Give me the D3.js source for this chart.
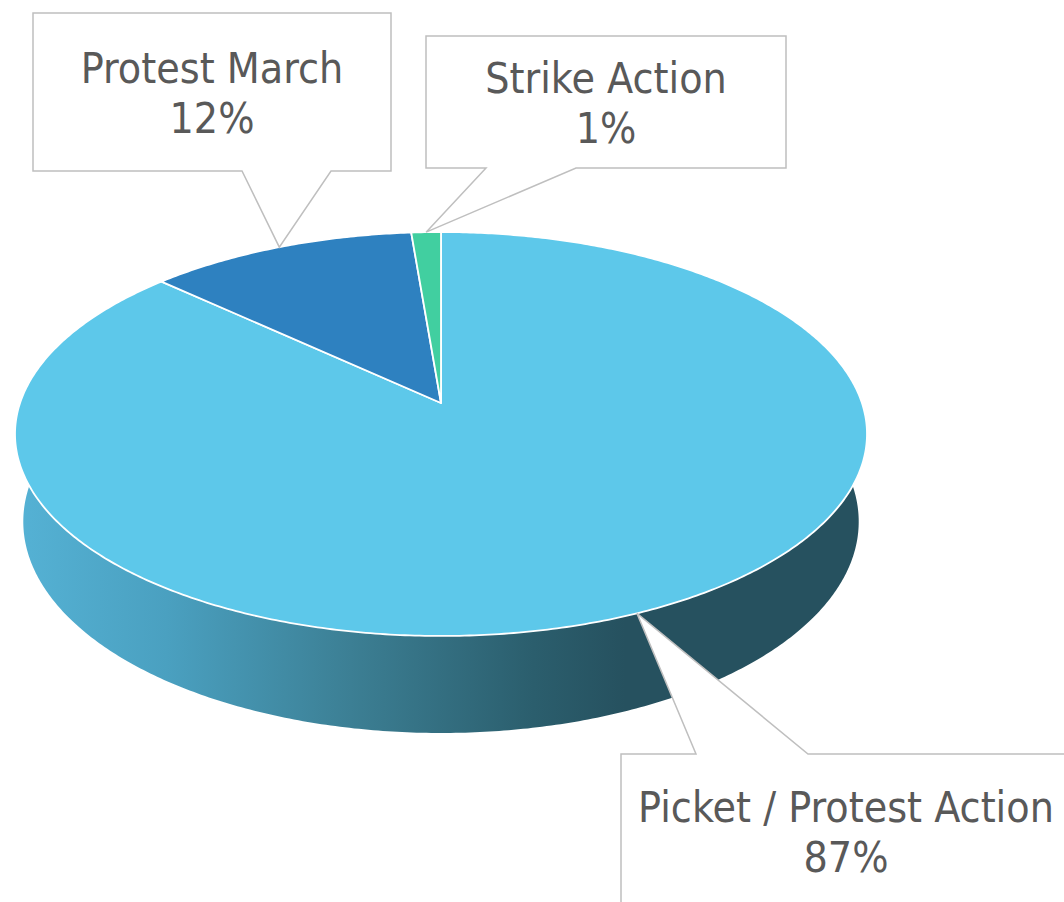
<!DOCTYPE html>
<html>
<head>
<meta charset="utf-8">
<script src="https://cdn.jsdelivr.net/npm/d3@7"></script>
<style>
  body { margin: 0; background: #fff; }
  svg { display: block; }
</style>
</head>
<body>
<div id="container"></div>
<script>
/* DATA */
const categories = ["Picket / Protest Action", "Protest March", "Strike Action"];
const values = [86.9, 11.8, 1.3];
const colors = ["#5dc8ea", "#2e81c0", "#41cfa0"];

/* CONSTANTS */
const width = 1064,
  height = 902;

// 3d pie camera, fitted to the picture
const cx = 441, cy = 403,       // projected centre of the top face
  phi = Math.asin(0.4685),       // tilt of the camera
  dist = 5.756,                  // camera distance (radius = 1)
  focal = 2423,
  depth3d = 0.238;               // thickness of the pie

// callout boxes: [x0, y0, x1, y1], pointer base on the box edge, text anchor
const callouts = [
  { box: [621, 754, 1090, 930], edge: "top", base: [696, 808], tx: 846, ty: 822 },
  { box: [33, 13, 391, 171], edge: "bottom", base: [242, 331], tx: 212, ty: 83 },
  { box: [426, 36, 786, 168], edge: "bottom", base: [486, 576], tx: 606, ty: 93 }
];

const fmt = d3.format(".0%");

// theta is clockwise from the far point (12 o'clock), like d3.pie
function project(theta, r, y) {
  const x = r * Math.sin(theta), z = r * Math.cos(theta);
  const dep = -y * Math.sin(phi) + z * Math.cos(phi) + dist;
  const up = y * Math.cos(phi) + z * Math.sin(phi);
  return [cx + focal * x / dep, cy - focal * up / dep];
}

function arcPoints(a0, a1, y) {
  const n = Math.max(2, Math.ceil((a1 - a0) / 0.01));
  return d3.range(n + 1).map(i => project(a0 + (a1 - a0) * i / n, 1, y));
}

const line = d3.line();

const svg = d3.select("#container")
  .append("svg")
  .attr("width", width)
  .attr("height", height);

// gradient for the outer wall
const grad = svg.append("defs").append("linearGradient")
  .attr("id", "wall")
  .attr("gradientUnits", "userSpaceOnUse")
  .attr("x1", 15).attr("x2", 625).attr("y1", 0).attr("y2", 0);
grad.selectAll("stop")
  .data([[0, "#55b2d5"], [0.25, "#4aa0c0"], [0.55, "#3c7f94"], [0.85, "#2b5e6d"], [1, "#26515f"]])
  .join("stop")
  .attr("offset", d => d[0])
  .attr("stop-color", d => d[1]);

const pie = d3.pie().sort(null).value(d => d.value);
const slices = pie(categories.map((c, i) => ({ name: c, value: values[i], color: colors[i] })));

// outer wall, only the near half can be seen
const wallStart = Math.PI * 0.44, wallEnd = Math.PI * 1.56;
svg.append("g")
  .selectAll("path")
  .data(slices.filter(d => Math.max(d.startAngle, wallStart) < Math.min(d.endAngle, wallEnd)))
  .join("path")
  .attr("d", d => {
    const a0 = Math.max(d.startAngle, wallStart), a1 = Math.min(d.endAngle, wallEnd);
    const pts = arcPoints(a0, a1, 0).concat(arcPoints(a0, a1, -depth3d).reverse());
    return line(pts) + "Z";
  })
  .attr("fill", "url(#wall)");

// top face
svg.append("g")
  .selectAll("path")
  .data(slices)
  .join("path")
  .attr("d", d => line([[cx, cy]].concat(arcPoints(d.startAngle, d.endAngle, 0))) + "Z")
  .attr("fill", d => d.data.color)
  .attr("stroke", "#fff")
  .attr("stroke-width", 1.8)
  .attr("stroke-linejoin", "round");

// callouts
const labels = svg.append("g")
  .selectAll("g")
  .data(slices)
  .join("g");

labels.append("path")
  .attr("d", (d, i) => {
    const c = callouts[i], [x0, y0, x1, y1] = c.box;
    const tip = project((d.startAngle + d.endAngle) / 2, 1, 0);
    if (c.edge === "top") {
      return `M${x0},${y0}H${c.base[0]}L${tip[0]},${tip[1]}L${c.base[1]},${y0}H${x1}V${y1}H${x0}Z`;
    }
    return `M${x0},${y0}H${x1}V${y1}H${c.base[1]}L${tip[0]},${tip[1]}L${c.base[0]},${y1}H${x0}Z`;
  })
  .attr("fill", "#fff")
  .attr("stroke", "#bfbfbf")
  .attr("stroke-width", 1.5);

const txt = labels.append("text")
  .attr("text-anchor", "middle")
  .attr("font-family", "'DejaVu Sans Condensed', 'DejaVu Sans', sans-serif")
  .attr("font-size", 42.5)
  .attr("fill", "#595959");

txt.append("tspan")
  .attr("x", (d, i) => callouts[i].tx)
  .attr("y", (d, i) => callouts[i].ty)
  .text(d => d.data.name);

txt.append("tspan")
  .attr("x", (d, i) => callouts[i].tx)
  .attr("y", (d, i) => callouts[i].ty + 50)
  .text(d => fmt(Math.round(d.data.value) / 100));
</script>
</body>
</html>
